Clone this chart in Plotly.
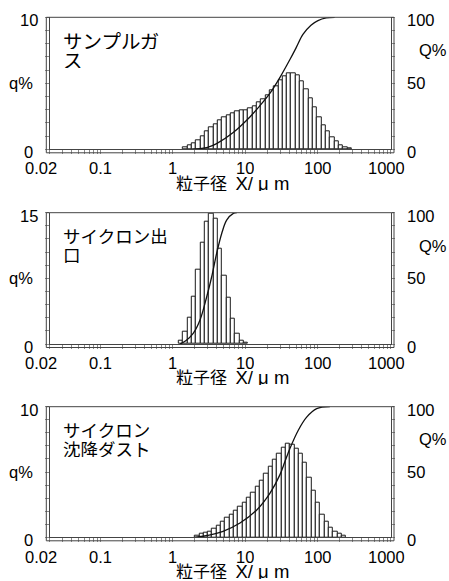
import numpy as np
import plotly.graph_objects as go

W, H = 449, 581

# ---------------- data ----------------
# x tick labels
XTICK_VALUES = [0.02, 0.1, 1, 10, 100, 1000]
XTICK_TEXT = ["0.02", "0.1", "1", "10", "100", "1000"]
AXIS_TITLE_JP = "粒子径"
AXIS_TITLE_SYM = "X/ μ m"

# Panel 1 : サンプルガス  (bin centres in µm, frequency q %)
p1_label = ["サンプルガ", "ス"]
p1_d = [1.485, 1.704, 1.954, 2.242, 2.572, 2.950, 3.383, 3.880, 4.451, 5.105,
        5.855, 6.716, 7.702, 8.835, 10.13, 11.62, 13.33, 15.29, 17.54, 20.12,
        23.08, 26.47, 30.36, 34.83, 39.94, 45.81, 52.55, 60.26, 69.12, 79.28,
        90.94, 104.3, 119.6, 137.2, 157.4, 180.5, 207.1, 237.5, 272.4]
p1_q = [0.15, 0.28, 0.45, 0.71, 1.01, 1.34, 1.64, 1.92, 2.22, 2.42,
        2.60, 2.73, 2.85, 2.93, 2.98, 3.08, 3.28, 3.54, 3.79, 4.12,
        4.45, 4.80, 5.20, 5.55, 5.75, 5.78, 5.60, 5.15, 4.55, 3.90,
        3.15, 2.45, 1.85, 1.35, 0.92, 0.58, 0.33, 0.17, 0.08]
p1_cd = [1.9, 3.0, 4.0, 6.7, 11.5, 15.8, 21.8, 29.9, 41, 50, 62, 80, 100, 130, 170]
p1_cQ = [0, 1.5, 4.3, 12.5, 24.5, 33, 42.5, 54.5, 68, 77, 87, 94, 97.5, 99.5, 100]
p1_qmax = 10

# Panel 2 : サイクロン出口
p2_label = ["サイクロン出", "口"]
p2_d = [1.295, 1.485, 1.704, 1.954, 2.242, 2.572, 2.950, 3.383, 3.880, 4.451,
        5.105, 5.855, 6.716, 7.702, 8.835, 10.13]
p2_q = [0.35, 1.4, 3.0, 5.45, 8.45, 11.6, 14.0, 14.9, 14.3, 10.9,
        7.85, 5.3, 2.85, 1.2, 0.33, 0.17]
p2_cd = [1.25, 1.5, 1.9, 2.36, 2.92, 3.42, 4.0, 4.7, 5.5, 6.8, 7.6]
p2_cQ = [0, 2.5, 8.1, 18.3, 36, 51.2, 69, 84.2, 94.3, 99.5, 100]
p2_qmax = 15

# Panel 3 : サイクロン沈降ダスト
p3_label = ["サイクロン", "沈降ダスト"]
p3_d = [2.154, 2.471, 2.834, 3.250, 3.728, 4.276, 4.905, 5.625, 6.452, 7.400,
        8.488, 9.736, 11.17, 12.81, 14.69, 16.85, 19.33, 22.17, 25.43, 29.16,
        33.45, 38.37, 44.01, 50.48, 57.89, 66.40, 76.17, 87.36, 100.2, 114.9,
        131.8, 151.2, 173.4, 198.9, 228.1]
p3_q = [0.14, 0.24, 0.33, 0.46, 0.65, 0.92, 1.20, 1.48, 1.74, 2.00,
        2.35, 2.65, 3.00, 3.42, 3.85, 4.30, 4.85, 5.40, 5.95, 6.40,
        6.85, 7.15, 7.12, 6.80, 6.40, 5.75, 4.60, 3.60, 2.65, 1.70,
        1.20, 0.70, 0.43, 0.24, 0.16]
p3_cd = [2.0, 2.6, 4.9, 8.4, 14.4, 21.8, 29.9, 35, 41, 53.5, 69.8, 96, 146]
p3_cQ = [0, 0.8, 4.6, 10.9, 21.1, 33.8, 48, 58, 68, 82, 92, 98.5, 100]
p3_qmax = 10

BIN_LOG_WIDTH = 0.0596  # width of one size class in log10 units

# ---------------- layout geometry (pixels) ----------------
L, R = 49.8, 390.5          # data-area left/right
STRIP = 3.5                 # tick strip width
panels = [
    dict(d=p1_d, q=p1_q, cd=p1_cd, cQ=p1_cQ, qmax=p1_qmax, label=p1_label,
         T=17.3, B=149.3, qdt=1, lsize=19.5),
    dict(d=p2_d, q=p2_q, cd=p2_cd, cQ=p2_cQ, qmax=p2_qmax, label=p2_label,
         T=212.7, B=344.0, qdt=1.5, lsize=17.5),
    dict(d=p3_d, q=p3_q, cd=p3_cd, cQ=p3_cQ, qmax=p3_qmax, label=p3_label,
         T=406.7, B=537.3, qdt=1, lsize=17.5),
]

def px(x):
    return x / W

def py(y):
    return 1 - y / H

LATIN = "Liberation Sans, Arial, Helvetica, sans-serif"
CJK = "Noto Sans CJK JP, sans-serif"
LINE = "#444444"
TICK = "#8a8a8a"

# minor tick positions for the log size axis
minor = []
for n in range(-2, 3):
    for k in range(1, 10):
        v = k * 10.0 ** n
        if 0.02 - 1e-12 <= v <= 1000:
            minor.append(np.log10(v))
minor.append(3.0)

title_text = (AXIS_TITLE_JP + "\u2002" +
              "<span style='font-family:Liberation Sans, Arial;font-size:18.5px'>"
              + AXIS_TITLE_SYM + "</span>")

fig = go.Figure()
layout = dict(width=W, height=H, margin=dict(l=0, r=0, t=0, b=0),
              paper_bgcolor="white", plot_bgcolor="white", showlegend=False)
shapes = []
annotations = []

for i, p in enumerate(panels):
    xid = "x" if i == 0 else f"x{i+1}"
    ylid = "y" if i == 0 else f"y{2*i+1}"
    yrid = f"y{2*i+2}"
    xkey = "xaxis" if i == 0 else f"xaxis{i+1}"
    ylkey = "yaxis" if i == 0 else f"yaxis{2*i+1}"
    yrkey = f"yaxis{2*i+2}"
    T, B = p["T"], p["B"]

    fig.add_trace(go.Bar(
        x=np.log10(p["d"]), y=p["q"], width=BIN_LOG_WIDTH,
        marker=dict(color="white", line=dict(color="#1a1a1a", width=1)),
        xaxis=xid, yaxis=ylid, hoverinfo="skip"))
    fig.add_trace(go.Scatter(
        x=np.log10(p["cd"]), y=p["cQ"], mode="lines",
        line=dict(color="#111111", width=1.3, shape="spline", smoothing=1.0),
        xaxis=xid, yaxis=yrid, hoverinfo="skip"))

    layout[xkey] = dict(domain=[px(L), px(R)], range=[np.log10(0.02), 3],
                        anchor=ylid, tickmode="array", tickvals=minor,
                        ticks="outside", ticklen=STRIP, tickcolor=TICK, tickwidth=1,
                        showticklabels=False, showline=True, linecolor=LINE,
                        linewidth=1, showgrid=False, zeroline=False, fixedrange=True)
    qt = list(np.arange(0, p["qmax"] + 1e-9, p["qdt"]))
    layout[ylkey] = dict(domain=[py(B), py(T)], range=[0, p["qmax"]], anchor=xid,
                         tickmode="array", tickvals=qt, ticks="outside",
                         ticklen=STRIP, tickcolor=TICK, tickwidth=1,
                         showticklabels=False, showline=True, linecolor=LINE,
                         linewidth=1, showgrid=False, zeroline=False, fixedrange=True)
    layout[yrkey] = dict(overlaying=ylid, side="right", anchor=xid, range=[0, 100],
                         tickmode="array", tickvals=list(range(0, 101, 10)),
                         ticks="outside", ticklen=STRIP, tickcolor=TICK, tickwidth=1,
                         showticklabels=False, showline=True, linecolor=LINE,
                         linewidth=1, showgrid=False, zeroline=False, fixedrange=True)

    # frame: top line and outer edges of the tick strips
    lc = dict(color=LINE, width=1)
    shapes += [
        dict(type="line", xref="paper", yref="paper", x0=px(L - STRIP), x1=px(R + STRIP),
             y0=py(T), y1=py(T), line=lc),
        dict(type="line", xref="paper", yref="paper", x0=px(L - STRIP), x1=px(L - STRIP),
             y0=py(T), y1=py(B + STRIP), line=lc),
        dict(type="line", xref="paper", yref="paper", x0=px(R + STRIP), x1=px(R + STRIP),
             y0=py(T), y1=py(B + STRIP), line=lc),
        dict(type="line", xref="paper", yref="paper", x0=px(L - STRIP), x1=px(R + STRIP),
             y0=py(B + STRIP), y1=py(B + STRIP), line=lc),
    ]

    # x tick labels
    shifts = [-8.5, 0, 0, 0, 0, -4]
    for v, t, s in zip(XTICK_VALUES, XTICK_TEXT, shifts):
        annotations.append(dict(text=t, xref=xid, x=np.log10(v), yref="paper",
                                y=py(B + 19.2), xanchor="center", yanchor="middle",
                                xshift=s, showarrow=False, height=16,
                                font=dict(family=LATIN, size=16.5, color="black")))
    # axis title
    annotations.append(dict(text=title_text, xref="paper", x=px(232.5), yref="paper",
                            y=py(B + 32.3), xanchor="center", yanchor="middle",
                            showarrow=False, height=18,
                            font=dict(family=CJK, size=17, color="black")))
    # left labels
    for val, txt, ys in [(0, "0", -3), (p["qmax"], str(p["qmax"]), -3)]:
        annotations.append(dict(text=txt, xref="paper", x=px(28.5), yref=ylid, y=val,
                                xanchor="center", yanchor="middle", yshift=ys,
                                showarrow=False,
                                font=dict(family=LATIN, size=16.5, color="black")))
    annotations.append(dict(text="q%", xref="paper", x=px(20.7), yref=ylid,
                            y=p["qmax"] / 2, xanchor="center", yanchor="middle",
                            showarrow=False, font=dict(family=LATIN, size=16.5, color="black")))
    # right labels
    for val, txt, ys in [(0, "0", -3), (50, "50", 0), (100, "100", -3)]:
        annotations.append(dict(text=txt, xref="paper", x=px(405), yref=yrid, y=val,
                                xanchor="left", yanchor="middle", yshift=ys,
                                showarrow=False,
                                font=dict(family=LATIN, size=16.5, color="black")))
    annotations.append(dict(text="Q%", xref="paper", x=px(433), yref=yrid, y=75,
                            xanchor="center", yanchor="middle", showarrow=False,
                            font=dict(family=LATIN, size=16.5, color="black")))
    # sample label
    for j, line in enumerate(p["label"]):
        annotations.append(dict(text=line, xref="paper", x=px(61), yref="paper",
                                y=py(T + 22.4 + 19 * j), xanchor="left", yanchor="middle",
                                showarrow=False, height=18,
                                font=dict(family=CJK, size=p["lsize"], color="black")))

layout["shapes"] = shapes
layout["annotations"] = annotations
layout["bargap"] = 0
fig.update_layout(**layout)
fig.write_html("out.html", config={"displayModeBar": False},
               post_script="document.body.style.margin='0';document.body.style.padding='0';")
